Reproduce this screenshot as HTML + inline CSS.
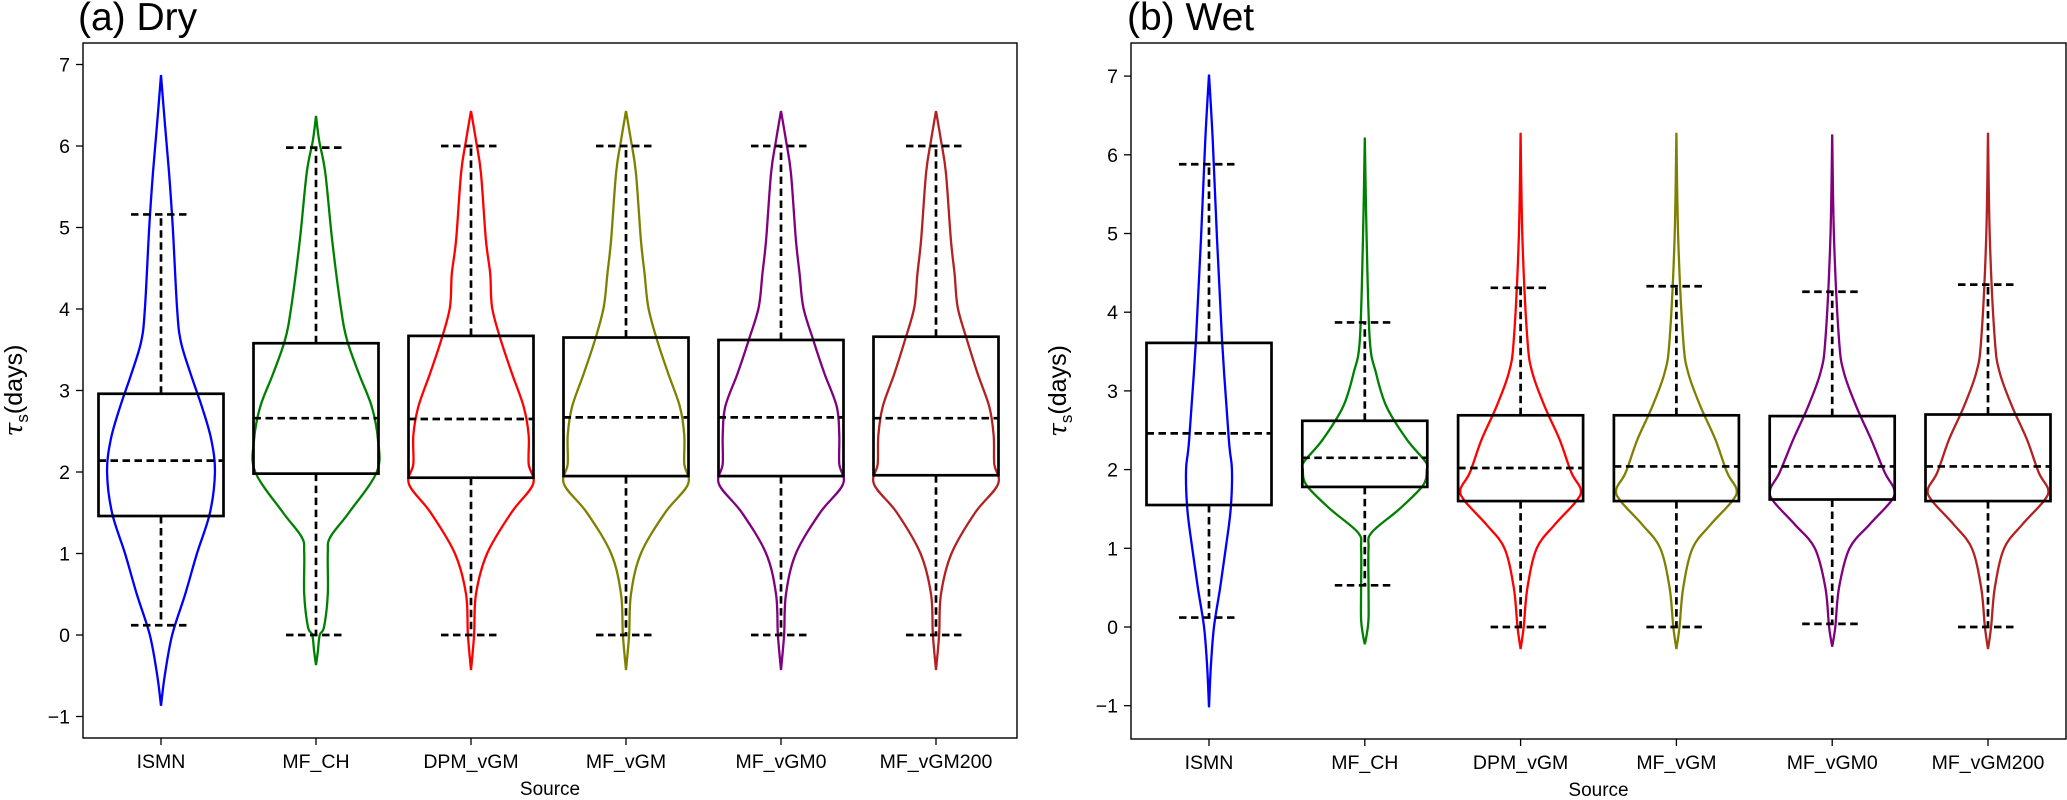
<!DOCTYPE html>
<html><head><meta charset="utf-8"><style>
html,body{margin:0;padding:0;background:#fff;}
svg{display:block;font-family:"Liberation Sans","DejaVu Sans",sans-serif;}
</style></head><body>
<svg id="chart" width="2067" height="800" viewBox="0 0 2067 800"></svg>
<script>
const categories = ["ISMN","MF_CH","DPM_vGM","MF_vGM","MF_vGM0","MF_vGM200"];
const colors = ["#0000ff","#008000","#ff0000","#808000","#800080","#b22222"];
const yTicks = [-1,0,1,2,3,4,5,6,7];
// Box stats: [whiskerLow, Q1, median, Q3, whiskerHigh]
const dryBox = [[0.12,1.46,2.14,2.96,5.16],[0,1.98,2.66,3.58,5.98],[0,1.93,2.65,3.67,6.0],[0,1.95,2.67,3.65,6.0],[0,1.95,2.67,3.62,6.0],[0,1.96,2.66,3.66,6.0]];
const wetBox = [[0.12,1.55,2.46,3.61,5.88],[0.53,1.78,2.15,2.62,3.87],[0,1.6,2.02,2.69,4.31],[0,1.6,2.04,2.69,4.33],[0.04,1.62,2.04,2.68,4.26],[0,1.6,2.04,2.70,4.35]];
// Violin profiles: values and relative density (fraction of max violin half-width)
const dryVals = [
 [-0.87,-0.5,0,0.5,1,1.5,2,2.4,2.8,3.2,3.6,4.0,5.0,5.67,6.3,6.87],
 [-0.37,-0.2,0,0.1,0.5,1.0,1.2,1.5,2.0,2.39,2.8,3.21,3.62,4.02,4.85,5.67,6.07,6.37],
 [-0.43,0,0.5,1.0,1.5,1.85,2.1,2.45,2.8,3.21,3.62,4.02,4.43,4.85,5.67,6.07,6.43],
 [-0.43,0,0.5,1.0,1.5,1.85,2.1,2.45,2.8,3.21,3.62,4.02,4.43,4.85,5.67,6.07,6.43],
 [-0.43,0,0.5,1.0,1.5,1.85,2.1,2.45,2.8,3.21,3.62,4.02,4.43,4.85,5.67,6.07,6.43],
 [-0.43,0,0.5,1.0,1.5,1.85,2.1,2.45,2.8,3.21,3.62,4.02,4.43,4.85,5.67,6.07,6.43]];
const dryDens = [
 [0,0.06,0.18,0.39,0.58,0.79,0.87,0.81,0.66,0.48,0.32,0.26,0.19,0.13,0.06,0],
 [0,0.03,0.06,0.13,0.19,0.19,0.23,0.53,0.98,1.0,0.9,0.69,0.5,0.4,0.26,0.15,0.05,0],
 [0,0.05,0.08,0.26,0.65,1.0,0.93,0.93,0.85,0.66,0.48,0.34,0.31,0.24,0.16,0.08,0],
 [0,0.05,0.08,0.24,0.63,1.0,0.94,0.94,0.87,0.68,0.5,0.36,0.3,0.24,0.16,0.08,0],
 [0,0.05,0.08,0.24,0.63,1.0,0.94,0.94,0.9,0.7,0.52,0.36,0.3,0.24,0.16,0.08,0],
 [0,0.05,0.08,0.25,0.63,1.0,0.94,0.93,0.86,0.67,0.5,0.35,0.3,0.24,0.16,0.08,0]];
const wetVals = [
 [-1.02,-0.5,0,0.5,1,1.5,2,2.38,3.65,4.92,6.19,7.02],
 [-0.22,-0.1,0.1,0.5,1.0,1.2,1.5,1.8,2.0,2.1,2.38,2.8,3.23,3.65,4.92,6.22],
 [-0.28,0,0.5,1.0,1.3,1.6,1.75,1.96,2.38,2.8,3.23,3.65,4.92,6.28],
 [-0.28,0,0.5,1.0,1.3,1.6,1.75,1.96,2.38,2.8,3.23,3.65,4.92,6.28],
 [-0.25,0,0.5,1.0,1.3,1.6,1.75,1.96,2.38,2.8,3.23,3.65,4.92,6.26],
 [-0.28,0,0.5,1.0,1.3,1.6,1.75,1.96,2.38,2.8,3.23,3.65,4.92,6.28]];
const wetDens = [
 [0,0.03,0.08,0.18,0.27,0.35,0.37,0.32,0.21,0.13,0.06,0],
 [0,0.03,0.06,0.06,0.06,0.11,0.56,0.94,1.0,0.98,0.68,0.35,0.18,0.08,0.03,0],
 [0,0.05,0.11,0.26,0.55,0.9,0.97,0.82,0.63,0.39,0.19,0.11,0.03,0],
 [0,0.05,0.11,0.26,0.55,0.9,0.97,0.82,0.63,0.39,0.19,0.11,0.03,0],
 [0,0.05,0.11,0.28,0.6,0.95,1.0,0.85,0.63,0.39,0.19,0.11,0.03,0],
 [0,0.05,0.11,0.26,0.55,0.9,0.97,0.82,0.63,0.39,0.19,0.11,0.03,0]];

const NS="http://www.w3.org/2000/svg";
const svg=document.getElementById('chart');
function el(tag,attrs,parent,text){const e=document.createElementNS(NS,tag);for(const k in attrs)e.setAttribute(k,attrs[k]);if(text!==undefined)e.textContent=text;(parent||svg).appendChild(e);return e;}

function smoothPath(pts){
  let d="M"+pts[0][0].toFixed(2)+","+pts[0][1].toFixed(2);
  for(let i=0;i<pts.length-1;i++){
    const p0=pts[Math.max(i-1,0)],p1=pts[i],p2=pts[i+1],p3=pts[Math.min(i+2,pts.length-1)];
    const c1=[p1[0]+(p2[0]-p0[0])/6,p1[1]+(p2[1]-p0[1])/6];
    const c2=[p2[0]-(p3[0]-p1[0])/6,p2[1]-(p3[1]-p1[1])/6];
    d+=" C"+c1[0].toFixed(2)+","+c1[1].toFixed(2)+" "+c2[0].toFixed(2)+","+c2[1].toFixed(2)+" "+p2[0].toFixed(2)+","+p2[1].toFixed(2);
  }
  return d;
}

function panel(cfg){
  const g=el('g',{});
  
  
  const L=cfg.left,R=cfg.right,T=cfg.top,B=cfg.bottom;
  const y=v=>cfg.y0-v*cfg.unit;
  const x=i=>cfg.x0+i*cfg.step;
  const t=el('text',{x:cfg.titleX,y:30,'font-size':39,fill:'#000'},g,cfg.title);
  
  
  yTicks.forEach(v=>{
    const yy=y(v);
    const tk=el('line',{x1:L-7,x2:L,y1:yy,y2:yy,stroke:'#000','stroke-width':1.3},g);
    
    
    const lb=el('text',{x:L-13,y:yy+7,'font-size':19.5,'text-anchor':'end',fill:'#000'},g,v<0?'\u2212'+Math.abs(v):String(v));
    
    
  });
  const yl=el('text',{transform:`translate(${cfg.ylabX},${(T+B)/2}) rotate(-90)`,'font-size':25,'text-anchor':'middle',fill:'#000'},g);
  
  
  el('tspan',{'font-style':'italic','font-family':'"DejaVu Serif",serif'},yl,'\u03C4');
  el('tspan',{'font-size':17,dy:6},yl,'s');
  el('tspan',{dy:-6},yl,'(days)');
  categories.forEach((c,i)=>{
    const xx=x(i);
    const tk=el('line',{x1:xx,x2:xx,y1:B,y2:B+7,stroke:'#000','stroke-width':1.3},g);
    
    
    const lb=el('text',{x:xx,y:B+30,'font-size':19.5,'text-anchor':'middle',fill:'#000'},g,c);
    
    
  });
  const xl=el('text',{x:(L+R)/2,y:B+57,'font-size':19,'text-anchor':'middle',fill:'#000'},g,'Source');
  
  
  const maxHalf=62, boxHalf=62.5, capHalf=30;
  categories.forEach((c,i)=>{
    const cx=x(i);
    const vals=cfg.vals[i], dens=cfg.dens[i];
    const rightPts=vals.map((v,k)=>[cx+dens[k]*maxHalf,y(v)]);
    const leftPts=vals.map((v,k)=>[cx-dens[k]*maxHalf,y(v)]);
    const vp=el('path',{d:smoothPath(rightPts)+" "+smoothPath(leftPts).replace('M',' M'),fill:'none',stroke:colors[i],'stroke-width':2.3},g);
    
    
    const b=cfg.box[i];
    const dash={stroke:'#000','stroke-width':2.7,'stroke-dasharray':'7.5,4.5',fill:'none'};
    const w1=el('line',Object.assign({x1:cx,x2:cx,y1:y(b[1]),y2:y(b[0])},dash),g);
    
    
    const w2=el('line',Object.assign({x1:cx,x2:cx,y1:y(b[3]),y2:y(b[4])},dash),g);
    
    
    const c1=el('line',Object.assign({x1:cx-capHalf,x2:cx+capHalf,y1:y(b[0]),y2:y(b[0])},dash),g);
    
    
    const c2=el('line',Object.assign({x1:cx-capHalf,x2:cx+capHalf,y1:y(b[4]),y2:y(b[4])},dash),g);
    
    
    const bx=el('rect',{x:cx-boxHalf,y:y(b[3]),width:2*boxHalf,height:y(b[1])-y(b[3]),fill:'none',stroke:'#000','stroke-width':2.7},g);
    
    
    const md=el('line',Object.assign({x1:cx-boxHalf,x2:cx+boxHalf,y1:y(b[2]),y2:y(b[2])},dash),g);
    
    
  });
  const fr=el('rect',{x:L,y:T,width:R-L,height:B-T,fill:'none',stroke:'#000','stroke-width':1.4},g);
  
  
}

panel({name:'panel-dry',title:'(a) Dry',titleX:78,left:83,right:1017,top:43,bottom:738,y0:635,unit:81.5,x0:161,step:155,ylabX:22,vals:dryVals,dens:dryDens,box:dryBox});
panel({name:'panel-wet',title:'(b) Wet',titleX:1127,left:1131,right:2066,top:43,bottom:739,y0:627,unit:78.7,x0:1209,step:155.8,ylabX:1066,vals:wetVals,dens:wetDens,box:wetBox});
</script>
</body></html>
